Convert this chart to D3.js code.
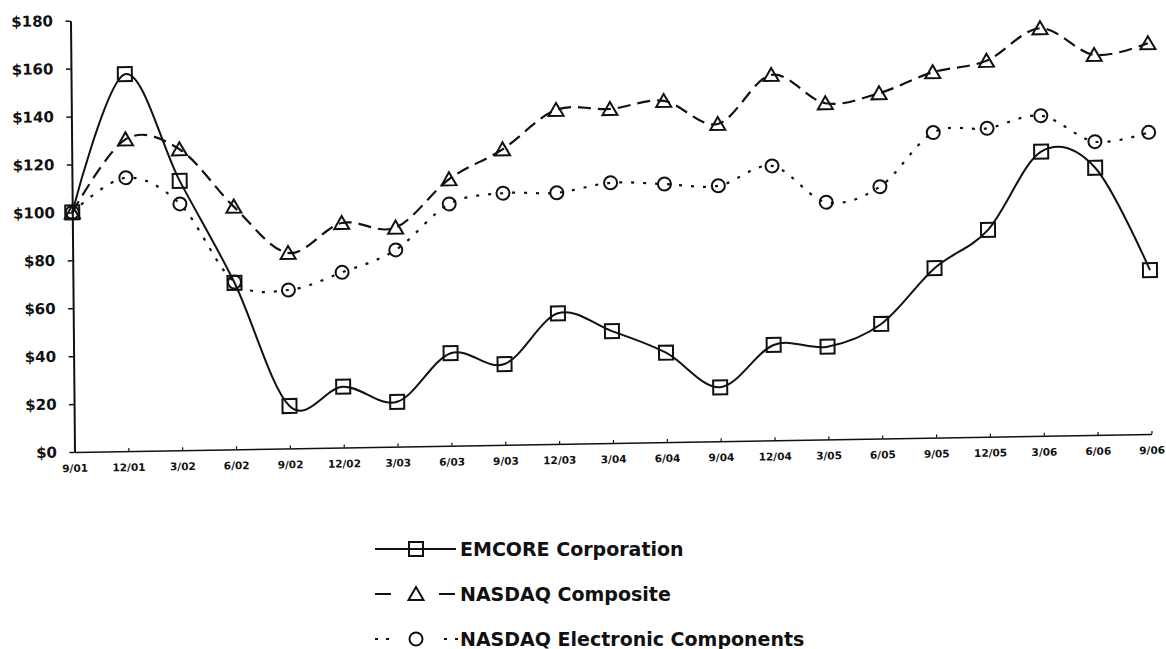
<!DOCTYPE html>
<html>

<head>
    <meta charset='utf-8' />
    <title>EMCORE cumulative total return</title>
    <script charset="utf-8" src="https://d3js.org/d3.v7.min.js"></script>
    <style>
        body {
            margin: 0;
            background: #fff;
            font-family: 'DejaVu Sans', Arial, sans-serif;
        }

        svg text {
            font-weight: bold;
            fill: #111;
        }
    </style>
</head>

<body>
    <div id="chartContainer"></div>
</body>

<script>
    // quarter labels along the bottom
    var dates = ["9/01", "12/01", "3/02", "6/02", "9/02", "12/02", "3/03", "6/03", "9/03", "12/03",
        "3/04", "6/04", "9/04", "12/04", "3/05", "6/05", "9/05", "12/05", "3/06", "6/06", "9/06"]

    // value of $100 invested
    var emcore = [100, 157.3, 112.4, 69.5, 17.7, 25.4, 18.7, 38.6, 33.7, 54.5, 46.7,
        37.3, 22.5, 39.8, 38.7, 47.8, 70.7, 86.3, 118.6, 111.5, 68.4]
    var composite = [100, 130.1, 125.6, 101.3, 81.6, 93.7, 91.4, 111.2, 123.3, 139.4, 139.4,
        142.4, 132.4, 152.5, 140.3, 144.1, 152.5, 156.9, 170.1, 158.6, 163.1]
    var electronic = [100, 114.1, 102.8, 69.8, 66.1, 73.1, 82.1, 100.9, 105, 104.8, 108.6,
        107.7, 106.6, 114.5, 99, 105.1, 127.3, 128.7, 133.6, 122.4, 125.9]

    var seriesNames = ["EMCORE Corporation", "NASDAQ Composite", "NASDAQ Electronic Components"]
    var yTicks = [0, 20, 40, 60, 80, 100, 120, 140, 160, 180]

    var width = 1166
    var height = 649
    var plotW = 1077
    var plotH = 431.3

    var svg = d3.select("#chartContainer").append("svg")
        .attr("width", width)
        .attr("height", height)

    // the printed page was scanned slightly askew, so the plot is sheared a little
    var g = svg.append("g")
        .attr("transform", "matrix(1,-0.0167,0.0093,1,74.5,452)")

    var x = d3.scalePoint().domain(dates).range([0, plotW])
    var y = d3.scaleLinear().domain([0, 180]).range([0, -plotH])

    var yAxis = g.append("g")
        .call(d3.axisLeft(y).tickValues(yTicks).tickFormat(function (d) { return "$" + d })
            .tickSize(5).tickSizeOuter(0).tickPadding(12.5))
    yAxis.select(".domain").attr("stroke", "#111").attr("stroke-width", 2)
    yAxis.selectAll(".tick line").attr("stroke", "#111").attr("stroke-width", 1.5)
    yAxis.selectAll("text")
        .style("font-family", "DejaVu Sans")
        .style("font-size", "15px")
        .attr("fill", "#111")

    var xAxis = g.append("g")
        .call(d3.axisBottom(x).tickSize(-3).tickSizeOuter(0).tickPadding(12.5))
    xAxis.select(".domain").attr("stroke", "#111").attr("stroke-width", 1.5)
    xAxis.selectAll(".tick line").attr("stroke", "#111").attr("stroke-width", 1.2)
    xAxis.selectAll("text")
        .style("font-family", "DejaVu Sans")
        .style("font-size", "10.5px")
        .attr("fill", "#111")

    var line = d3.line()
        .x(function (d, i) { return x(dates[i]) })
        .y(function (d) { return y(d) })
        .curve(d3.curveCardinal.tension(0))

    var dashes = [null, "13,7", "3,9"]
    var allSeries = [emcore, composite, electronic]

    allSeries.forEach(function (s, k) {
        g.append("path")
            .datum(s)
            .attr("d", line)
            .attr("fill", "none")
            .attr("stroke", "#111")
            .attr("stroke-width", k == 0 ? 2 : 2.2)
            .attr("stroke-dasharray", dashes[k])
    })

    // hollow markers, the lines show through them
    function drawMarker(sel, kind, cx, cy) {
        if (kind == 0) {
            sel.append("rect")
                .attr("x", cx - 7).attr("y", cy - 7)
                .attr("width", 14).attr("height", 14)
        } else if (kind == 1) {
            sel.append("path")
                .attr("d", "M" + (cx - 7.5) + "," + (cy + 6) + "L" + cx + "," + (cy - 7) + "L" + (cx + 7.5) + "," + (cy + 6) + "Z")
        } else {
            sel.append("circle")
                .attr("cx", cx).attr("cy", cy).attr("r", 6.5)
        }
    }

    allSeries.forEach(function (s, k) {
        var mg = g.append("g")
            .attr("fill", "none")
            .attr("stroke", "#111")
            .attr("stroke-width", 2)
        s.forEach(function (v, i) {
            drawMarker(mg, k, x(dates[i]), y(v))
        })
    })

    // legend under the chart
    var legend = svg.append("g")
    var rowY = [549, 594, 639]

    seriesNames.forEach(function (name, k) {
        var row = legend.append("g")
            .attr("fill", "none")
            .attr("stroke", "#111")
            .attr("stroke-width", 2)
        var ry = rowY[k]
        if (k == 0) {
            row.append("line").attr("x1", 375).attr("x2", 456).attr("y1", ry).attr("y2", ry)
        } else if (k == 1) {
            row.append("line").attr("x1", 375).attr("x2", 391).attr("y1", ry).attr("y2", ry)
            row.append("line").attr("x1", 439).attr("x2", 455).attr("y1", ry).attr("y2", ry)
        } else {
            row.append("line").attr("x1", 375).attr("x2", 392).attr("y1", ry).attr("y2", ry)
                .attr("stroke-dasharray", "3,8")
            row.append("line").attr("x1", 444).attr("x2", 458).attr("y1", ry).attr("y2", ry)
                .attr("stroke-dasharray", "3,8")
        }
        drawMarker(row, k, 416, ry)

        legend.append("text")
            .attr("x", 460)
            .attr("y", ry)
            .attr("dy", "0.36em")
            .style("font-family", "DejaVu Sans")
            .style("font-size", "19px")
            .text(name)
    })
</script>

</html>
